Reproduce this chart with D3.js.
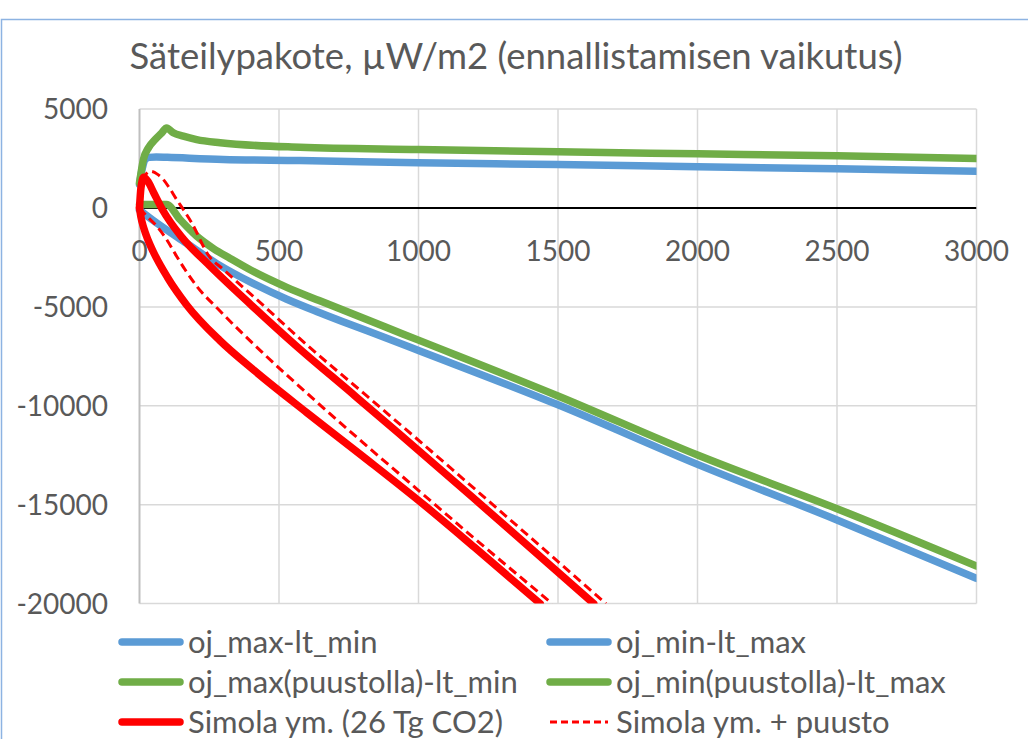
<!DOCTYPE html>
<html>
<head>
<meta charset="utf-8">
<script src="https://cdn.jsdelivr.net/npm/d3@7"></script>
<style>
  html, body { margin: 0; padding: 0; background: #fff; }
  svg { display: block; }
  text { font-family: Lato, "Open Sans", sans-serif; fill: #595959; }
</style>
</head>
<body>
<svg id="chart" width="1028" height="739"></svg>
<script>
// values: [year, µW/m2]
var ojMaxLtMin = [[0,1200],[10,2000],[20,2450],[35,2560],[60,2580],[100,2560],[300,2450],[575,2400],[1000,2285],[1500,2200],[2000,2085],[2500,1980],[3000,1860]];
var ojMinLtMax = [[0,-100],[47,-610],[168,-1780],[286,-2890],[405,-3800],[526,-4600],[644,-5280],[763,-5930],[884,-6570],[1000,-7200],[1500,-9950],[2000,-12960],[2500,-15770],[3000,-18720]];
var ojMaxPuuLtMin = [[0,1270],[14,2450],[32,3040],[56,3460],[80,3800],[97,4050],[121,3800],[157,3630],[205,3460],[289,3300],[575,3070],[1000,2960],[1500,2840],[2000,2740],[2500,2640],[3000,2500]];
var ojMinPuuLtMax = [[0,175],[97,175],[145,-580],[205,-1425],[265,-2050],[325,-2550],[400,-3150],[526,-4000],[644,-4680],[763,-5350],[884,-6030],[1000,-6680],[1500,-9500],[2000,-12490],[2500,-15200],[3000,-18100]];
var simolaLow = [[0,0],[5,-450],[15,-1000],[30,-1600],[49,-2200],[100,-3500],[169,-4900],[288,-6700],[410,-8200],[600,-10350],[800,-12550],[1023,-15050],[1200,-17150],[1436,-20000]];
var simolaHigh = [[0,0],[5,1000],[15,1550],[30,1350],[50,800],[83,-100],[150,-1450],[250,-2900],[400,-4900],[560,-6950],[760,-9350],[930,-11400],[1200,-14700],[1628,-20000]];
var simolaPuuLow = [[0,0],[26,-410],[62,-920],[97,-1590],[133,-2440],[163,-3110],[205,-3950],[286,-5170],[440,-7300],[619,-9600],[800,-11850],[931,-13440],[1200,-16700],[1479,-20000]];
var simolaPuuHigh = [[0,0],[8,1200],[20,1650],[40,1850],[65,1700],[85,1450],[103,1100],[133,430],[157,-75],[187,-750],[250,-2450],[300,-3100],[442,-4900],[602,-6950],[802,-9350],[972,-11400],[1242,-14700],[1672,-20000]];

var xTicks = [0, 500, 1000, 1500, 2000, 2500, 3000];
var yTicks = [5000, 0, -5000, -10000, -15000, -20000];
var title = "Säteilypakote, µW/m2 (ennallistamisen vaikutus)";

var blue = "#5B9BD5", green = "#70AD47", red = "#FF0000";

var series = [
  {name: "oj_max-lt_min", data: ojMaxLtMin, color: blue, dash: null, legend: true},
  {name: "oj_min-lt_max", data: ojMinLtMax, color: blue, dash: null, legend: true},
  {name: "oj_max(puustolla)-lt_min", data: ojMaxPuuLtMin, color: green, dash: null, legend: true},
  {name: "oj_min(puustolla)-lt_max", data: ojMinPuuLtMax, color: green, dash: null, legend: true},
  {name: "Simola ym. (26 Tg CO2)", data: simolaLow, color: red, dash: null, legend: true},
  {name: "Simola ym. (26 Tg CO2) b", data: simolaHigh, color: red, dash: null, legend: false},
  {name: "Simola ym. + puusto", data: simolaPuuLow, color: red, dash: "9,5", legend: true},
  {name: "Simola ym. + puusto b", data: simolaPuuHigh, color: red, dash: "9,5", legend: false}
];

var svg = d3.select("#chart");

// chart frame
svg.append("rect")
  .attr("x", 1.5).attr("y", 19.5)
  .attr("width", 1100).attr("height", 800)
  .attr("fill", "none")
  .attr("stroke", "#8DB3E2")
  .attr("stroke-width", 1.5);

var x = d3.scaleLinear().domain([0, 3000]).range([139.5, 976.5]);
var y = d3.scaleLinear().domain([-20000, 5000]).range([603.6, 109.1]);

svg.append("text")
  .attr("x", 516).attr("y", 69)
  .attr("text-anchor", "middle")
  .style("font-size", "36.5px")
  .text(title);

// gridlines
var grid = svg.append("g");
grid.selectAll(".hg").data(yTicks.filter(function(d) { return d !== 0; }))
  .enter().append("line")
  .attr("x1", x(0)).attr("x2", x(3000))
  .attr("y1", function(d) { return y(d); }).attr("y2", function(d) { return y(d); })
  .attr("stroke", "#D9D9D9").attr("stroke-width", 1.5);
grid.selectAll(".vg").data(xTicks.filter(function(d) { return d !== 0; }))
  .enter().append("line")
  .attr("y1", y(5000)).attr("y2", y(-20000))
  .attr("x1", function(d) { return x(d); }).attr("x2", function(d) { return x(d); })
  .attr("stroke", "#D9D9D9").attr("stroke-width", 1.5);

// vertical axis line
svg.append("line")
  .attr("x1", x(0)).attr("x2", x(0))
  .attr("y1", y(5000)).attr("y2", y(-20000))
  .attr("stroke", "#BFBFBF").attr("stroke-width", 2);

// y labels
svg.selectAll(".yl").data(yTicks).enter().append("text")
  .attr("x", 108)
  .attr("y", function(d) { return y(d); })
  .attr("dy", "0.36em")
  .attr("text-anchor", "end")
  .style("font-size", "28px")
  .text(function(d) { return d; });

// x labels (axis crosses at 0)
svg.selectAll(".xl").data(xTicks).enter().append("text")
  .attr("x", function(d) { return x(d); })
  .attr("y", 261)
  .attr("text-anchor", "middle")
  .style("font-size", "28px")
  .text(function(d) { return d; });

// series
svg.append("clipPath").attr("id", "plot")
  .append("rect")
  .attr("x", x(0) - 6).attr("y", y(5000))
  .attr("width", x(3000) - x(0) + 6).attr("height", y(-20000) - y(5000));

var line = d3.line()
  .x(function(d) { return x(d[0]); })
  .y(function(d) { return y(d[1]); })
  .curve(d3.curveMonotoneX);

var lines = svg.append("g").attr("clip-path", "url(#plot)");

// zero line sits under the series
lines.append("line")
  .attr("x1", x(0)).attr("x2", x(3000))
  .attr("y1", y(0)).attr("y2", y(0))
  .attr("stroke", "#000").attr("stroke-width", 2);

lines.selectAll(".s").data(series).enter().append("path")
  .attr("d", function(d) { return line(d.data); })
  .attr("fill", "none")
  .attr("stroke", function(d) { return d.color; })
  .attr("stroke-width", function(d) { return d.dash ? 3 : 7.5; })
  .attr("stroke-dasharray", function(d) { return d.dash; })
  .attr("stroke-linejoin", "round")
  .attr("stroke-linecap", function(d) { return d.dash ? "butt" : "round"; });

// legend
var legendItems = series.filter(function(d) { return d.legend; });
var legend = svg.selectAll(".lg").data(legendItems).enter().append("g")
  .attr("transform", function(d, i) {
    return "translate(" + (i % 2 === 0 ? 122 : 550) + "," + (642 + Math.floor(i / 2) * 40) + ")";
  });
legend.append("line")
  .attr("x1", 0).attr("x2", 58)
  .attr("stroke", function(d) { return d.color; })
  .attr("stroke-width", function(d) { return d.dash ? 3 : 7.5; })
  .attr("stroke-dasharray", function(d) { return d.dash ? "7,4" : null; })
  .attr("stroke-linecap", function(d) { return d.dash ? "butt" : "round"; });
legend.append("text")
  .attr("x", 66).attr("dy", "0.36em")
  .style("font-size", "31px")
  .text(function(d) { return d.name; });
</script>
</body>
</html>
